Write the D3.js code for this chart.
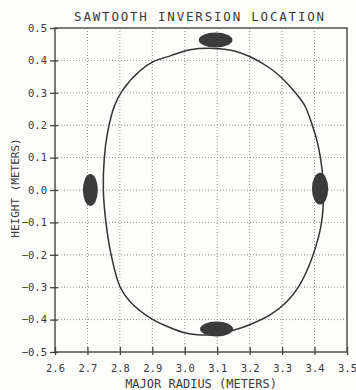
<!DOCTYPE html>
<html>
<head>
<meta charset="utf-8">
<script src="https://cdn.jsdelivr.net/npm/d3@7"></script>
<style>
  body { margin: 0; background: #fdfdfb; }
  text { font-family: "DejaVu Sans Mono", monospace; fill: #3a3a3a; }
</style>
</head>
<body>
<div id="chart"></div>
<script>
// boundary of the inversion surface, traced clockwise from the top (R, Z in meters)
const surfR = [3.09, 3.15, 3.20, 3.264, 3.30, 3.341, 3.37, 3.393, 3.408, 3.418, 3.427, 3.426, 3.418, 3.404, 3.382,
  3.351, 3.315, 3.264, 3.20, 3.15, 3.09, 3.04, 2.996, 2.934, 2.898, 2.831, 2.80, 2.773, 2.757, 2.749,
  2.752, 2.762, 2.783, 2.807, 2.862, 2.903, 2.955, 3.017];
const surfZ = [0.437, 0.43, 0.412, 0.375, 0.345, 0.3, 0.26, 0.2, 0.15, 0.1, 0.02, -0.06, -0.12, -0.174, -0.236,
  -0.298, -0.344, -0.385, -0.416, -0.433, -0.446, -0.447, -0.440, -0.416, -0.398, -0.344, -0.298, -0.2, -0.1, 0.0,
  0.1, 0.177, 0.259, 0.306, 0.368, 0.396, 0.414, 0.433];

// measured inversion points (centre and half extent, meters)
const ptR = [3.095, 2.709, 3.417, 3.098];
const ptZ = [0.463, 0.0, 0.004, -0.429];
const ptdR = [0.052, 0.023, 0.025, 0.051];
const ptdZ = [0.023, 0.049, 0.049, 0.023];

const xTicks = [2.6, 2.7, 2.8, 2.9, 3.0, 3.1, 3.2, 3.3, 3.4, 3.5];
const yTicks = [0.5, 0.4, 0.3, 0.2, 0.1, 0.0, -0.1, -0.2, -0.3, -0.4, -0.5];

const dims = { width: 356, height: 390 };
const margins = { left: 55, right: 9, top: 28, bottom: 38 };

const svg = d3.select('#chart')
  .append('svg')
  .attr('width', dims.width)
  .attr('height', dims.height);

const w = dims.width - margins.left - margins.right;
const h = dims.height - margins.top - margins.bottom;

const x = d3.scaleLinear().domain([2.6, 3.5]).range([0, w]);
const y = d3.scaleLinear().domain([-0.5, 0.5]).range([h, 0]);

const g = svg.append('g')
  .attr('transform', `translate(${margins.left},${margins.top})`);

// dotted grid
g.append('g')
  .selectAll('line')
  .data(xTicks.slice(1, -1))
  .join('line')
    .attr('x1', d => x(d)).attr('x2', d => x(d))
    .attr('y1', 0).attr('y2', h)
    .attr('stroke', '#8a8a8a')
    .attr('stroke-width', 0.9)
    .attr('stroke-dasharray', '1,2');

g.append('g')
  .selectAll('line')
  .data(yTicks.slice(1, -1))
  .join('line')
    .attr('y1', d => y(d)).attr('y2', d => y(d))
    .attr('x1', 0).attr('x2', w)
    .attr('stroke', '#8a8a8a')
    .attr('stroke-width', 0.9)
    .attr('stroke-dasharray', '1,2');

// frame
g.append('rect')
  .attr('width', w).attr('height', h)
  .attr('fill', 'none')
  .attr('stroke', '#444')
  .attr('stroke-width', 1.4);

// axes
const xAxis = d3.axisBottom(x)
  .tickValues(xTicks)
  .tickFormat(d3.format('.1f'))
  .tickSizeInner(-5)
  .tickSizeOuter(0)
  .tickPadding(13);

const yAxis = d3.axisLeft(y)
  .tickValues(yTicks)
  .tickFormat(d3.format('.1f'))
  .tickSizeInner(5)
  .tickSizeOuter(0)
  .tickPadding(4);

const xg = g.append('g')
  .attr('transform', `translate(0,${h})`)
  .call(xAxis);
xg.select('.domain').remove();
xg.selectAll('.tick line').attr('y1', 3).attr('stroke', '#444').attr('stroke-width', 1.3);
xg.selectAll('.tick text')
  .attr('font-size', 10.5)
  .attr('font-family', '"DejaVu Sans Mono", monospace')
  .attr('fill', '#3a3a3a');

const yg = g.append('g').call(yAxis);
yg.select('.domain').remove();
yg.selectAll('.tick line').attr('x2', 3).attr('x1', -5).attr('stroke', '#444').attr('stroke-width', 1.3);
yg.selectAll('.tick text')
  .attr('x', -8)
  .attr('font-size', 10.5)
  .attr('font-family', '"DejaVu Sans Mono", monospace')
  .attr('fill', '#3a3a3a');

// inversion surface
const surf = surfR.map((r, i) => [r, surfZ[i]]);
const line = d3.line()
  .x(d => x(d[0]))
  .y(d => y(d[1]))
  .curve(d3.curveCatmullRomClosed);

g.append('path')
  .datum(surf)
  .attr('d', line)
  .attr('fill', 'none')
  .attr('stroke', '#333')
  .attr('stroke-width', 1.5);

// measured points
g.selectAll('ellipse')
  .data(ptR.map((r, i) => ({ r, z: ptZ[i], dr: ptdR[i], dz: ptdZ[i] })))
  .join('ellipse')
    .attr('cx', d => x(d.r))
    .attr('cy', d => y(d.z))
    .attr('rx', d => x(2.6 + d.dr) - x(2.6))
    .attr('ry', d => y(-0.5) - y(-0.5 + d.dz))
    .attr('fill', '#3b3b3b');

// titles
svg.append('text')
  .attr('x', 200)
  .attr('y', 21)
  .attr('text-anchor', 'middle')
  .attr('font-size', 12.5)
  .attr('letter-spacing', 1.8)
  .text('SAWTOOTH INVERSION LOCATION');

svg.append('text')
  .attr('x', 201)
  .attr('y', 388)
  .attr('text-anchor', 'middle')
  .attr('font-size', 12)
  .text('MAJOR RADIUS (METERS)');

svg.append('text')
  .attr('transform', 'translate(19,188) rotate(-90)')
  .attr('text-anchor', 'middle')
  .attr('font-size', 11)
  .text('HEIGHT (METERS)');
</script>
</body>
</html>
